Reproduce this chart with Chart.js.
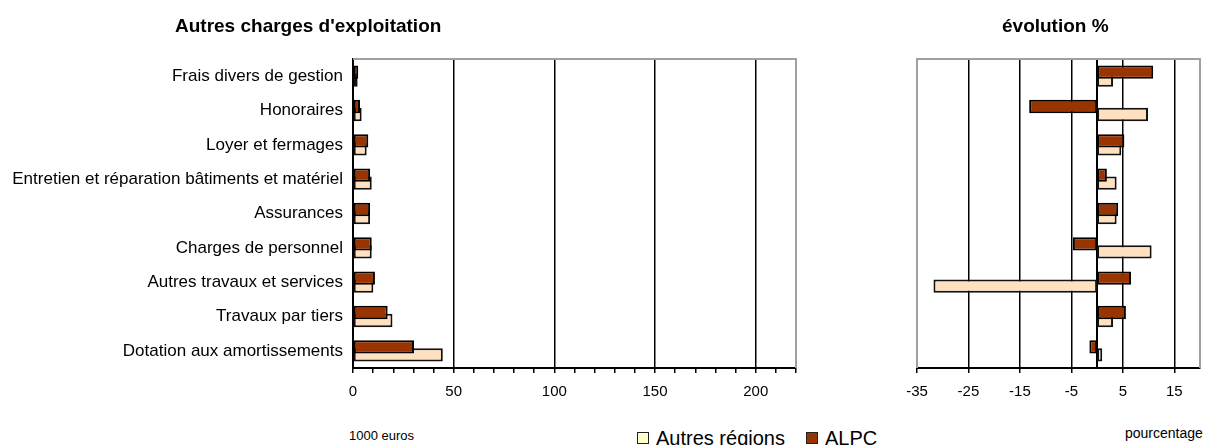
<!DOCTYPE html>
<html>
<head>
<meta charset="utf-8">
<script src="https://cdn.jsdelivr.net/npm/chart.js@4"></script>
<style>
  body { margin: 0; background: #fff; width: 1207px; height: 445px; overflow: hidden; position: relative; font-family: "Liberation Sans", Arial, sans-serif; color: #000; }
  canvas { position: absolute; top: 0; }
  #gauche { left: 0; }
  #droite { left: 880px; }
  .txt { position: absolute; white-space: nowrap; }
  .titre { font-weight: bold; font-size: 19px; line-height: 20px; top: 16px; }
  .unite { font-size: 13px; line-height: 14px; }
  #legende { position: absolute; left: 637px; top: 428px; font-size: 20px; line-height: 20px; white-space: nowrap; }
  #legende span.box { display: inline-block; width: 10px; height: 10px; border: 1.5px solid #222; margin-right: 7px; vertical-align: 1px; }
  #legende span.item { margin-right: 21px; }
</style>
</head>
<body>
<canvas id="gauche" width="810" height="410"></canvas>
<canvas id="droite" width="327" height="410"></canvas>
<div class="txt titre" style="left:175px">Autres charges d'exploitation</div>
<div class="txt titre" style="left:1002px">évolution %</div>
<div class="txt unite" style="left:349px; top:429px">1000 euros</div>
<div class="txt unite" style="left:1125px; top:426px; font-size:14px">pourcentage</div>
<div id="legende"></div>
<script>
// postes de charges (de haut en bas)
const categories = [
  'Frais divers de gestion',
  'Honoraires',
  'Loyer et fermages',
  'Entretien et réparation bâtiments et matériel',
  'Assurances',
  'Charges de personnel',
  'Autres travaux et services',
  'Travaux par tiers',
  'Dotation aux amortissements'
];
const serieAlpc = 'ALPC';
const serieAutres = 'Autres régions';

// montants en 1000 euros
const alpcMontants   = [2.6, 3.5, 7.6, 8.5, 8.5, 9.3, 10.9, 17.2, 30.3];
const autresMontants = [2.3, 4.3, 6.8, 9.3, 8.5, 9.3, 10.1, 19.6, 44.6];

// évolution en %
const alpcEvolution   = [10.9, -13.2, 5.3, 1.9, 4.1, -4.7, 6.6, 5.6, -1.5];
const autresEvolution = [3.1, 9.9, 4.7, 3.8, 3.8, 10.6, -31.8, 3.1, 1.0];

const montantLabels = [0, 50, 100, 150, 200];
const evolutionTicks = [-35, -25, -15, -5, 5, 15];

const couleurAlpc = '#993300';
const couleurAutres = '#FFE0C0';

Chart.defaults.font.family = '"Liberation Sans", Arial, sans-serif';
Chart.defaults.color = '#000';

// cadre gris du graphique (côtés sans axe)
const cadre = {
  id: 'cadre',
  beforeDatasetsDraw(chart, args, opts) {
    const a = chart.chartArea;
    const ctx = chart.ctx;
    ctx.save();
    ctx.strokeStyle = '#a0a0a0';
    ctx.lineWidth = 2;
    ctx.beginPath();
    ctx.moveTo(a.left, a.bottom);
    if (opts.left) ctx.lineTo(a.left, a.top); else ctx.moveTo(a.left, a.top);
    ctx.lineTo(a.right, a.top);
    ctx.lineTo(a.right, a.bottom);
    ctx.stroke();
    ctx.restore();
  }
};

function jeux(alpc, autres) {
  return [
    { label: serieAlpc, data: alpc, backgroundColor: couleurAlpc, borderColor: '#000', borderWidth: 2, borderSkipped: false },
    { label: serieAutres, data: autres, backgroundColor: couleurAutres, borderColor: '#111', borderWidth: 2, borderSkipped: false }
  ];
}

const commun = {
  indexAxis: 'y',
  responsive: false,
  animation: false,
  categoryPercentage: 0.466,
  barPercentage: 1.66,
};

new Chart(document.getElementById('gauche'), {
  type: 'bar',
  data: { labels: categories, datasets: jeux(alpcMontants, autresMontants) },
  options: Object.assign({}, commun, {
    layout: { padding: { top: 59, right: 14, left: 0, bottom: 0 } },
    plugins: { legend: { display: false }, tooltip: { enabled: false }, cadre: { left: false } },
    scales: {
      x: {
        min: 0, max: 220,
        ticks: {
          stepSize: 10, autoSkip: false, maxRotation: 0, padding: 10,
          font: { size: 15 },
          callback: v => montantLabels.includes(v) ? String(v) : ''
        },
        grid: {
          color: c => (c.tick && c.tick.value % 50 === 0 && c.tick.value > 0 && c.tick.value < 220) ? '#000' : 'rgba(0,0,0,0)',
          tickColor: '#000', tickLength: 5, lineWidth: 1.5
        },
        border: { color: '#000', width: 2 },
        afterFit: s => { s.height = 42; }
      },
      y: {
        ticks: { font: { size: 17 }, padding: 10, autoSkip: false },
        grid: { drawOnChartArea: false, drawTicks: false },
        border: { color: '#000', width: 2 },
        afterFit: s => { s.width = 353; }
      }
    }
  }),
  plugins: [cadre]
});

new Chart(document.getElementById('droite'), {
  type: 'bar',
  data: { labels: categories, datasets: jeux(alpcEvolution, autresEvolution) },
  options: Object.assign({}, commun, {
    layout: { padding: { top: 59, right: 7, left: 37, bottom: 0 } },
    plugins: { legend: { display: false }, tooltip: { enabled: false }, cadre: { left: true } },
    scales: {
      x: {
        min: -35, max: 20,
        afterBuildTicks: s => { s.ticks = evolutionTicks.map(v => ({ value: v })); },
        ticks: { autoSkip: false, maxRotation: 0, padding: 10, font: { size: 15 } },
        grid: {
          color: c => (c.tick && c.tick.value > -35) ? '#000' : 'rgba(0,0,0,0)',
          tickColor: '#000', tickLength: 5, lineWidth: 1.5
        },
        border: { color: '#000', width: 2 },
        afterFit: s => { s.height = 42; }
      },
      y: {
        position: { x: 0 },
        ticks: { display: false },
        grid: { drawOnChartArea: false, drawTicks: false },
        border: { color: '#000', width: 2 }
      }
    }
  }),
  plugins: [cadre]
});

// légende commune
const legende = document.getElementById('legende');
[[serieAutres, '#FFFFCC'], [serieAlpc, couleurAlpc]].forEach(([nom, coul]) => {
  const item = document.createElement('span');
  item.className = 'item';
  const box = document.createElement('span');
  box.className = 'box';
  box.style.background = coul;
  item.appendChild(box);
  item.appendChild(document.createTextNode(nom));
  legende.appendChild(item);
});
</script>
</body>
</html>
